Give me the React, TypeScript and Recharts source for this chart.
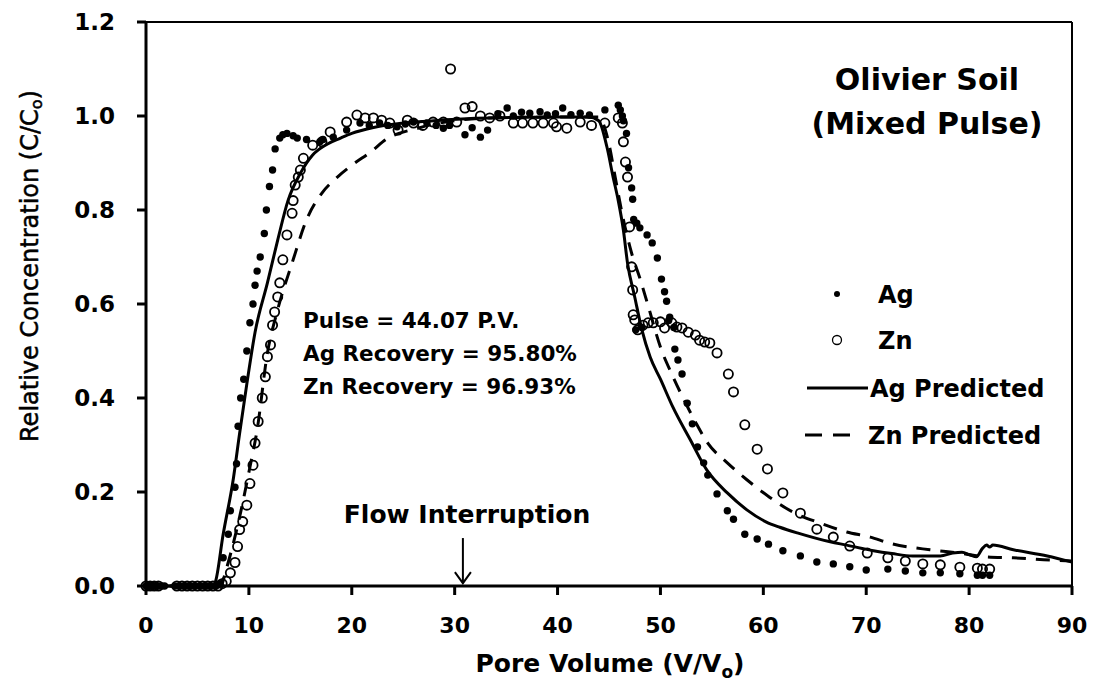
import React from "react";
import {
  ComposedChart,
  Line,
  ReferenceLine,
  Scatter,
  XAxis,
  YAxis,
} from "recharts";

// Pore volume (V/Vo) vs relative concentration (C/Co), Olivier soil mixed pulse
const agObserved: [number, number][] = [
  [0, 0], [0.3, 0], [0.6, 0], [0.9, 0], [1.2, 0], [1.5, 0], [1.8, 0],
  [2.8, 0], [3.2, 0], [3.6, 0], [4.0, 0], [4.4, 0], [4.8, 0], [5.2, 0],
  [5.6, 0], [6.0, 0], [6.4, 0], [6.8, 0], [7.2, 0.005],
  [7.5, 0.06], [8.0, 0.11], [8.2, 0.16], [8.65, 0.21], [8.8, 0.26],
  [8.95, 0.34], [9.2, 0.4], [9.5, 0.44], [9.8, 0.5], [10.1, 0.56],
  [10.4, 0.6], [10.6, 0.64], [10.8, 0.67], [11.1, 0.7], [11.5, 0.75],
  [11.7, 0.8], [12.0, 0.85], [12.3, 0.885], [12.55, 0.93], [13.0, 0.953],
  [13.3, 0.96], [13.7, 0.963], [14.3, 0.958], [14.7, 0.953], [15.6, 0.95],
  [16.9, 0.945], [17.2, 0.95], [18.2, 0.955], [19.5, 0.97], [20.8, 0.985],
  [21.7, 0.98], [22.7, 0.985], [23.5, 0.98], [24.4, 0.977], [25.2, 0.983],
  [26.0, 0.987], [27.3, 0.985], [28.2, 0.98], [28.9, 0.974], [29.5, 0.98],
  [31.0, 0.96], [31.7, 0.975], [32.5, 0.955], [33.2, 0.97], [34.2, 1.005],
  [35.1, 1.017], [35.7, 1.0], [36.5, 1.008], [37.3, 1.006], [38.3, 1.009],
  [39.0, 1.002], [39.8, 1.005], [40.5, 1.017], [41.3, 1.003], [42.2, 1.006],
  [43.1, 1.002], [44.6, 1.013], [45.9, 1.023], [46.1, 1.013], [46.3, 1.0],
  [46.4, 0.99], [46.7, 0.963], [46.9, 0.89], [47.2, 0.847], [47.3, 0.823],
  [47.4, 0.78], [47.6, 0.545], [47.7, 0.772], [48.0, 0.762], [48.2, 0.55],
  [48.7, 0.747], [49.2, 0.73], [49.7, 0.698], [50.1, 0.653], [50.4, 0.626],
  [50.6, 0.606], [50.8, 0.565], [50.9, 0.572], [51.3, 0.55], [51.4, 0.504],
  [51.7, 0.481], [52.1, 0.451], [52.6, 0.389], [53.1, 0.345], [53.6, 0.296],
  [54.2, 0.262], [54.6, 0.236], [55.5, 0.196], [56.5, 0.16], [57.1, 0.142],
  [58.2, 0.11], [59.4, 0.1], [60.5, 0.089], [61.9, 0.075], [63.6, 0.064],
  [65.2, 0.051], [66.8, 0.047], [68.4, 0.041], [70.0, 0.034], [72.1, 0.036],
  [73.8, 0.032], [75.5, 0.028], [77.2, 0.028], [79.1, 0.026], [80.8, 0.023],
  [81.3, 0.023], [82.0, 0.023],
];

const znObserved: [number, number][] = [
  [0, 0], [0.4, 0], [0.8, 0], [1.2, 0], [3.0, 0], [3.5, 0], [4.0, 0],
  [4.5, 0], [5.0, 0], [5.5, 0], [6.0, 0], [6.5, 0], [7.0, 0], [7.4, 0.005],
  [7.8, 0.01], [8.2, 0.028], [8.65, 0.05], [8.9, 0.084], [9.1, 0.12],
  [9.4, 0.137], [9.8, 0.172], [10.1, 0.218], [10.4, 0.257], [10.6, 0.304],
  [10.9, 0.35], [11.3, 0.4], [11.6, 0.445], [11.8, 0.488], [12.1, 0.513],
  [12.3, 0.555], [12.5, 0.583], [12.8, 0.615], [13.0, 0.645], [13.3, 0.694],
  [13.7, 0.747], [14.2, 0.793], [14.3, 0.82], [14.5, 0.853], [14.8, 0.87],
  [15.0, 0.885], [15.3, 0.91], [16.2, 0.938], [17.1, 0.945], [17.9, 0.966],
  [19.5, 0.987], [20.5, 1.002], [21.3, 0.996], [22.1, 0.996], [22.9, 0.991],
  [23.7, 0.985], [24.5, 0.97], [25.4, 0.991], [26.0, 0.985], [26.9, 0.98],
  [27.9, 0.987], [28.9, 0.987], [29.6, 1.1], [30.2, 0.987], [31.0, 1.017],
  [31.7, 1.02], [32.5, 1.0], [33.4, 0.996], [34.4, 1.0], [35.7, 0.985],
  [36.6, 0.985], [37.6, 0.985], [38.6, 0.985], [39.6, 0.985], [39.9, 0.977],
  [40.9, 0.974], [42.2, 0.987], [43.3, 0.98], [44.6, 0.985], [45.9, 0.996],
  [46.3, 0.985], [46.4, 0.945], [46.6, 0.902], [46.8, 0.87], [47.0, 0.764],
  [47.2, 0.679], [47.3, 0.63], [47.35, 0.577], [47.5, 0.566], [47.8, 0.545],
  [48.3, 0.555], [48.8, 0.56], [49.3, 0.56], [50.0, 0.562], [50.4, 0.549],
  [51.1, 0.56], [51.6, 0.551], [52.1, 0.549], [52.7, 0.54], [53.4, 0.534],
  [53.8, 0.523], [54.3, 0.519], [54.8, 0.517], [55.5, 0.496], [56.6, 0.451],
  [57.1, 0.413], [58.2, 0.343], [59.4, 0.291], [60.4, 0.249], [61.9, 0.198],
  [63.6, 0.155], [65.2, 0.121], [66.8, 0.104], [68.4, 0.085], [70.1, 0.07],
  [72.1, 0.06], [73.8, 0.053], [75.5, 0.047], [77.2, 0.045], [79.1, 0.04],
  [80.8, 0.038], [81.3, 0.036], [82.0, 0.036],
];

const agPredicted: [number, number][] = [
  [0, 0], [6.4, 0], [6.7, 0.006], [7.5, 0.11], [8.5, 0.23], [9.1, 0.325],
  [9.8, 0.43], [10.6, 0.54], [11.8, 0.645], [12.8, 0.736], [13.8, 0.82],
  [15.0, 0.878], [16.2, 0.917], [17.6, 0.94], [18.9, 0.953], [20.0, 0.963],
  [22.0, 0.975], [25.0, 0.985], [28.0, 0.99], [32.0, 0.995], [36.0, 0.997],
  [40.0, 0.998], [43.0, 0.998], [44.0, 0.99], [44.8, 0.934], [45.4, 0.87],
  [45.9, 0.82], [46.4, 0.757], [46.8, 0.687], [47.5, 0.615], [48.2, 0.545],
  [49.0, 0.487], [50.0, 0.44], [51.2, 0.381], [52.9, 0.311], [54.5, 0.247],
  [56.5, 0.198], [58.4, 0.162], [60.3, 0.136], [61.6, 0.125], [63.3, 0.113],
  [66.5, 0.094], [68.1, 0.087], [70.7, 0.075], [72.5, 0.069], [74.5, 0.064],
  [77.2, 0.064], [78.4, 0.07], [79.3, 0.072], [80.1, 0.066], [80.7, 0.062],
  [81.3, 0.08], [81.7, 0.087], [82.0, 0.083], [82.3, 0.087], [84.3, 0.077],
  [87.6, 0.064], [90.0, 0.051],
];

const znPredicted: [number, number][] = [
  [0, 0], [7.3, 0], [7.7, 0.028], [9.1, 0.147], [10.1, 0.253], [10.8, 0.332],
  [11.8, 0.496], [12.7, 0.58], [14.3, 0.694], [15.6, 0.779], [17.1, 0.836],
  [18.6, 0.87], [20.0, 0.895], [22.1, 0.928], [23.0, 0.945], [26.6, 0.975],
  [30.0, 0.99], [35.0, 0.997], [44.0, 0.998], [44.3, 0.99], [45.0, 0.94],
  [45.6, 0.87], [46.3, 0.79], [47.2, 0.708], [48.0, 0.655], [48.7, 0.604],
  [50.1, 0.502], [51.1, 0.451], [52.2, 0.4], [53.4, 0.349], [54.6, 0.304],
  [56.5, 0.262], [58.4, 0.226], [60.6, 0.189], [62.9, 0.157], [65.5, 0.134],
  [68.1, 0.115], [70.4, 0.104], [72.3, 0.091], [76.2, 0.077], [79.1, 0.07],
  [81.7, 0.062], [84.3, 0.06], [87.9, 0.055], [90.0, 0.053],
];

const xTicks = [0, 10, 20, 30, 40, 50, 60, 70, 80, 90];
const yTicks = [0, 0.2, 0.4, 0.6, 0.8, 1.0, 1.2];

const pulseText = "Pulse = 44.07 P.V.";
const agRecoveryText = "Ag Recovery = 95.80%";
const znRecoveryText = "Zn Recovery = 96.93%";
const flowInterruptionPv = 30.8;

const WIDTH = 1093;
const HEIGHT = 683;
const Y_AXIS_WIDTH = 60;
const X_AXIS_HEIGHT = 40;
const MARGIN = { top: 22, right: 21, bottom: 57, left: 86 };
const PLOT_LEFT = MARGIN.left + Y_AXIS_WIDTH;
const PLOT_RIGHT = WIDTH - MARGIN.right;
const PLOT_TOP = MARGIN.top;
const PLOT_BOTTOM = HEIGHT - MARGIN.bottom - X_AXIS_HEIGHT;
const X_MAX = 90;
const Y_MAX = 1.2;

const FONT = "'DejaVu Sans', sans-serif";

// same mapping the chart uses, for the overlay annotations
const px = (x: number) => PLOT_LEFT + (x / X_MAX) * (PLOT_RIGHT - PLOT_LEFT);
const py = (y: number) => PLOT_BOTTOM - (y / Y_MAX) * (PLOT_BOTTOM - PLOT_TOP);

const toPoints = (pairs: [number, number][]) => pairs.map(([x, y]) => ({ x, y }));

const AgDot = (props: any) => (
  <circle cx={props.cx} cy={props.cy} r={3.7} fill="#000" />
);

const ZnRing = (props: any) => (
  <circle cx={props.cx} cy={props.cy} r={4.6} fill="none" stroke="#000" strokeWidth={1.8} />
);

const axisLine = { stroke: "#000", strokeWidth: 3 };
const tickStyle = { fontFamily: FONT, fontWeight: "bold", fontSize: 22, fill: "#000" };

function Overlay() {
  const arrowX = px(flowInterruptionPv);
  const arrowTop = py(0.102);
  const arrowTip = py(0.006);
  return (
    <svg
      width={WIDTH}
      height={HEIGHT}
      style={{ position: "absolute", left: 0, top: 0, pointerEvents: "none" }}
      fontFamily={FONT}
    >
      {/* y axis title, slightly heavier than the book weight */}
      <text
        transform="translate(30, 266) rotate(-90)"
        textAnchor="middle"
        dominantBaseline="central"
        fontSize={24}
        fill="#000"
        stroke="#000"
        strokeWidth={0.5}
      >
        Relative Concentration (C/C
        <tspan fontSize={16} dy={6}>o</tspan>
        <tspan dy={-6}>)</tspan>
      </text>

      {/* x axis title */}
      <text x={610} y={672} textAnchor="middle" fontSize={25} fontWeight="bold" fill="#000">
        Pore Volume (V/V
        <tspan fontSize={17} dy={6}>o</tspan>
        <tspan dy={-6}>)</tspan>
      </text>

      {/* title */}
      <text x={927} y={90} textAnchor="middle" fontSize={30} fontWeight="bold" fill="#000">
        Olivier Soil
      </text>
      <text x={927} y={134} textAnchor="middle" fontSize={30} fontWeight="bold" fill="#000">
        (Mixed Pulse)
      </text>

      {/* pulse and recovery notes */}
      <g fontSize={21.5} fontWeight="bold" fill="#000">
        <text x={303} y={328}>{pulseText}</text>
        <text x={303} y={361}>{agRecoveryText}</text>
        <text x={303} y={394}>{znRecoveryText}</text>
      </g>

      {/* flow interruption marker */}
      <text x={467} y={523} textAnchor="middle" fontSize={25} fontWeight="bold" fill="#000">
        Flow Interruption
      </text>
      <line x1={arrowX} y1={arrowTop} x2={arrowX} y2={arrowTip} stroke="#000" strokeWidth={2} />
      <polyline
        points={`${arrowX - 8},${arrowTip - 11} ${arrowX},${arrowTip} ${arrowX + 8},${arrowTip - 11}`}
        fill="none"
        stroke="#000"
        strokeWidth={2}
      />

      {/* legend */}
      <g fontSize={24} fontWeight="bold" fill="#000">
        <circle cx={837} cy={294} r={3} fill="#000" />
        <text x={878} y={303}>Ag</text>
        <circle cx={837} cy={340} r={4.5} fill="none" stroke="#000" strokeWidth={1.3} />
        <text x={878} y={349}>Zn</text>
        <line x1={807} y1={388} x2={868} y2={388} stroke="#000" strokeWidth={3} />
        <text x={870} y={397}>Ag Predicted</text>
        <line x1={805} y1={435} x2={850} y2={435} stroke="#000" strokeWidth={3} strokeDasharray="17 11" />
        <text x={868} y={444}>Zn Predicted</text>
      </g>
    </svg>
  );
}

export default function App() {
  return (
    <div
      style={{
        position: "absolute",
        left: 0,
        top: 0,
        width: WIDTH,
        height: HEIGHT,
        background: "#fff",
      }}
    >
      <ComposedChart width={WIDTH} height={HEIGHT} margin={MARGIN}>
        <XAxis
          type="number"
          dataKey="x"
          domain={[0, X_MAX]}
          ticks={xTicks}
          interval={0}
          height={X_AXIS_HEIGHT}
          axisLine={axisLine}
          tickLine={axisLine}
          tickSize={9}
          tickMargin={22}
          tick={tickStyle}
        />
        <YAxis
          type="number"
          dataKey="y"
          domain={[0, Y_MAX]}
          ticks={yTicks}
          interval={0}
          width={Y_AXIS_WIDTH}
          axisLine={axisLine}
          tickLine={axisLine}
          tickSize={9}
          tickMargin={22}
          tick={{ ...tickStyle, fontSize: 23 }}
          tickFormatter={(v: number) => v.toFixed(1)}
        />
        <ReferenceLine y={Y_MAX} stroke="#000" strokeWidth={2} />
        <ReferenceLine x={X_MAX} stroke="#000" strokeWidth={2} />
        <Line
          data={toPoints(znPredicted)}
          dataKey="y"
          type="monotone"
          stroke="#000"
          strokeWidth={3}
          strokeDasharray="14 10"
          dot={false}
          activeDot={false}
          isAnimationActive={false}
        />
        <Line
          data={toPoints(agPredicted)}
          dataKey="y"
          type="monotone"
          stroke="#000"
          strokeWidth={3}
          dot={false}
          activeDot={false}
          isAnimationActive={false}
        />
        <Scatter data={toPoints(agObserved)} dataKey="y" shape={AgDot} isAnimationActive={false} />
        <Scatter data={toPoints(znObserved)} dataKey="y" shape={ZnRing} isAnimationActive={false} />
      </ComposedChart>
      <Overlay />
    </div>
  );
}
